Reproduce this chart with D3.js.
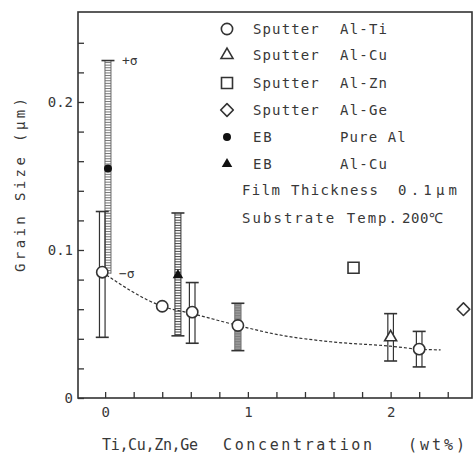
<!DOCTYPE html>
<html>
<head>
<meta charset="utf-8">
<script src="https://cdn.jsdelivr.net/npm/d3@7/dist/d3.min.js"></script>
<style>
  html, body { margin: 0; padding: 0; background: #fff; }
  svg { display: block; }
  text { font-family: "DejaVu Sans Mono", "Liberation Mono", monospace; fill: #383838; }
</style>
</head>
<body>
<svg id="chart" width="475" height="454"></svg>
<script>
// ---- data -------------------------------------------------------------
// Sputtered Al-Ti (open circles)
const tiX    = [-0.02, 0.40, 0.61, 0.93, 2.20];
const tiY    = [0.085, 0.062, 0.058, 0.049, 0.033];
const tiLow  = [0.041, null,  0.037, 0.032, 0.021];
const tiHigh = [0.126, null,  0.078, 0.064, 0.045];

// Sputtered Al-Cu (open triangle)
const cuX = [2.00], cuY = [0.041], cuLow = [0.025], cuHigh = [0.057];

// Sputtered Al-Zn (open square) and Al-Ge (open diamond)
const znX = [1.74], znY = [0.088];
const geX = [2.51], geY = [0.060];

// Evaporated (EB) pure Al (filled circle) and Al-Cu (filled triangle)
const ebAlX = [0.02], ebAlY = [0.155], ebAlLow = [0.084], ebAlHigh = [0.228];
const ebCuX = [0.51], ebCuY = [0.083], ebCuLow = [0.042], ebCuHigh = [0.125];

// Hand-fitted trend through the Al-Ti points
const fitX = [-0.02, 0.40, 0.61, 0.93, 1.20, 1.58, 2.00, 2.20, 2.35];
const fitY = [0.085, 0.062, 0.057, 0.049, 0.043, 0.038, 0.035, 0.033, 0.0325];

// Axis ticks
const xTicks = [0, 0.2, 0.4, 0.6, 0.8, 1.0, 1.2, 1.4, 1.6, 1.8, 2.0, 2.2, 2.4];
const xTickLabels = [0, 1, 2];
const yTicks = [0, 0.02, 0.04, 0.06, 0.08, 0.10, 0.12, 0.14, 0.16, 0.18, 0.20, 0.22, 0.24];
const yTickLabels = [0, 0.1, 0.2];

// Legend entries
const legendMethods = ["Sputter", "Sputter", "Sputter", "Sputter", "EB", "EB"];
const legendAlloys  = ["Al-Ti", "Al-Cu", "Al-Zn", "Al-Ge", "Pure Al", "Al-Cu"];

// ---- layout -----------------------------------------------------------
const svg = d3.select("#chart");
const L = 78, R = 472, T = 12, B = 398;
const x = d3.scaleLinear().domain([-0.19, 2.57]).range([L, R]);
const y = d3.scaleLinear().domain([0, 0.2608]).range([B, T]);
const ink = "#333";

// frame
svg.append("rect")
  .attr("x", L).attr("y", T).attr("width", R - L).attr("height", B - T)
  .attr("fill", "none").attr("stroke", ink).attr("stroke-width", 1.6);

// inward ticks
svg.append("g").attr("transform", `translate(${L},0)`)
  .call(d3.axisRight(y).tickValues(yTicks).tickSize(6).tickFormat(""))
  .call(g => g.select(".domain").remove())
  .call(g => g.selectAll("line").attr("stroke", ink).attr("stroke-width", 1.3));
svg.append("g").attr("transform", `translate(0,${B})`)
  .call(d3.axisTop(x).tickValues(xTicks).tickSize(6).tickFormat(""))
  .call(g => g.select(".domain").remove())
  .call(g => g.selectAll("line").attr("stroke", ink).attr("stroke-width", 1.3));

// tick labels
svg.append("g").attr("transform", `translate(${L},0)`)
  .call(d3.axisLeft(y).tickValues(yTickLabels).tickSize(0).tickPadding(5)
        .tickFormat(d => d === 0 ? "0" : d3.format(".1f")(d)))
  .call(g => g.select(".domain").remove())
  .call(g => g.selectAll("text").attr("font-size", 14)
        .style("font-family", "DejaVu Sans Mono").attr("fill", ink));
svg.append("g").attr("transform", `translate(0,${B})`)
  .call(d3.axisBottom(x).tickValues(xTickLabels).tickSize(0).tickPadding(9)
        .tickFormat(d3.format("d")))
  .call(g => g.select(".domain").remove())
  .call(g => g.selectAll("text").attr("font-size", 14)
        .style("font-family", "DejaVu Sans Mono").attr("fill", ink));

// text helper: monospace text spread to a given width
function label(str, x0, yc, width, size = 14) {
  return svg.append("text").text(str)
    .attr("x", x0).attr("y", yc).attr("dy", "0.35em")
    .attr("font-size", size)
    .attr("textLength", width).attr("lengthAdjust", "spacing");
}

// axis titles
label("Ti,Cu,Zn,Ge", 102, 445, 96, 15);
label("Concentration", 223, 445, 149, 15);
label("(wt%)", 408, 445, 57, 15);

svg.append("g").attr("transform", "translate(20,185) rotate(-90)")
  .append("text").text("Grain Size  (µm)")
  .attr("x", -87).attr("y", 0).attr("dy", "0.35em")
  .attr("font-size", 14)
  .attr("textLength", 174).attr("lengthAdjust", "spacing");

// ---- error bars -------------------------------------------------------
const gBars = svg.append("g");

function doubleBar(xv, lo, hi) {
  const cx = x(xv), y0 = y(lo), y1 = y(hi);
  [-2.8, 2.8].forEach(o => gBars.append("line")
    .attr("x1", cx + o).attr("x2", cx + o).attr("y1", y0).attr("y2", y1)
    .attr("stroke", ink).attr("stroke-width", 1.2));
  [y0, y1].forEach(yy => gBars.append("line")
    .attr("x1", cx - 6.5).attr("x2", cx + 6.5).attr("y1", yy).attr("y2", yy)
    .attr("stroke", ink).attr("stroke-width", 1.6));
}

function hatchBar(xv, lo, hi, caps, shade, tone) {
  const cx = x(xv), y0 = y(lo), y1 = y(hi);
  if (shade) {
    gBars.append("rect").attr("x", cx - 3.5).attr("width", 7)
      .attr("y", y1).attr("height", y0 - y1).attr("fill", "#9a9a9a");
  }
  [-3, 3].forEach(o => gBars.append("line")
    .attr("x1", cx + o).attr("x2", cx + o).attr("y1", y0).attr("y2", y1)
    .attr("stroke", tone).attr("stroke-width", 1));
  for (let yy = y1 + 2; yy < y0; yy += 2.6) {
    gBars.append("line")
      .attr("x1", cx - 3).attr("x2", cx + 3).attr("y1", yy).attr("y2", yy)
      .attr("stroke", tone).attr("stroke-width", 0.9);
  }
  caps.forEach(c => {
    const yy = c === "top" ? y1 : y0;
    gBars.append("line")
      .attr("x1", cx - 6.5).attr("x2", cx + 6.5).attr("y1", yy).attr("y2", yy)
      .attr("stroke", ink).attr("stroke-width", 1.6);
  });
}

// evaporated Al: top cap only, lower end reaches the Al-Ti marker
hatchBar(ebAlX[0], ebAlLow[0], ebAlHigh[0], ["top"], false, "#666");
hatchBar(ebCuX[0], ebCuLow[0], ebCuHigh[0], ["top", "bottom"], false, "#333");

tiX.forEach((xv, i) => {
  if (tiLow[i] === null) return;
  if (Math.abs(xv - 0.93) < 0.01) hatchBar(xv, tiLow[i], tiHigh[i], ["top", "bottom"], true, "#777");
  else doubleBar(xv, tiLow[i], tiHigh[i]);
});
cuX.forEach((xv, i) => doubleBar(xv, cuLow[i], cuHigh[i]));

// sigma annotations on the evaporated Al bar
svg.append("text").text("+σ").attr("x", x(ebAlX[0]) + 14).attr("y", y(ebAlHigh[0]))
  .attr("dy", "0.35em").attr("font-size", 13);
svg.append("text").text("−σ").attr("x", x(ebAlX[0]) + 11).attr("y", y(ebAlLow[0]))
  .attr("dy", "0.35em").attr("font-size", 13);

// ---- trend line -------------------------------------------------------
svg.append("path")
  .datum(fitX.map((v, i) => [v, fitY[i]]))
  .attr("d", d3.line().x(d => x(d[0])).y(d => y(d[1])).curve(d3.curveMonotoneX))
  .attr("fill", "none").attr("stroke", ink).attr("stroke-width", 1.2)
  .attr("stroke-dasharray", "3,2");

// ---- markers ----------------------------------------------------------
const shapes = {
  circle:   d3.symbol().type(d3.symbolCircle).size(100)(),
  triangle: d3.symbol().type(d3.symbolTriangle).size(62)(),
  square:   d3.symbol().type(d3.symbolSquare).size(121)(),
  diamond:  d3.symbol().type(d3.symbolSquare).size(80)(),
  dot:      d3.symbol().type(d3.symbolCircle).size(50)(),
  tri:      d3.symbol().type(d3.symbolTriangle).size(48)()
};
const openStyle = sel => sel.attr("fill", "#fff").attr("stroke", ink).attr("stroke-width", 1.6);
const fillStyle = sel => sel.attr("fill", "#111").attr("stroke", "none");

function marker(kind, px, py) {
  const p = svg.append("path").attr("d", shapes[kind])
    .attr("transform", `translate(${px},${py})` + (kind === "diamond" ? " rotate(45)" : ""));
  if (kind === "dot" || kind === "tri") fillStyle(p); else openStyle(p);
  if (kind === "diamond") p.attr("stroke-linejoin", "round");
  return p;
}

tiX.forEach((v, i) => marker("circle", x(v), y(tiY[i])));
cuX.forEach((v, i) => marker("triangle", x(v), y(cuY[i])));
znX.forEach((v, i) => marker("square", x(v), y(znY[i])));
geX.forEach((v, i) => marker("diamond", x(v), y(geY[i])));
ebAlX.forEach((v, i) => marker("dot", x(v), y(ebAlY[i])));
ebCuX.forEach((v, i) => marker("tri", x(v), y(ebCuY[i])));

// ---- legend -----------------------------------------------------------
const legendKinds = ["circle", "triangle", "square", "diamond", "dot", "tri"];
const rowY = [29, 55, 83, 110, 137, 164];
legendKinds.forEach((k, i) => {
  marker(k, 227, rowY[i]);
  const m = legendMethods[i];
  label(m, 253, rowY[i], m.length * 9.4);
  const a = legendAlloys[i];
  label(a, 340, rowY[i], a.length * 9.4);
});
label("Film Thickness", 242, 190, 136);
label("0.1µm", 398, 190, 59);
label("Substrate Temp.", 242, 218, 155);
label("200℃", 402, 218, 41);
</script>
</body>
</html>
